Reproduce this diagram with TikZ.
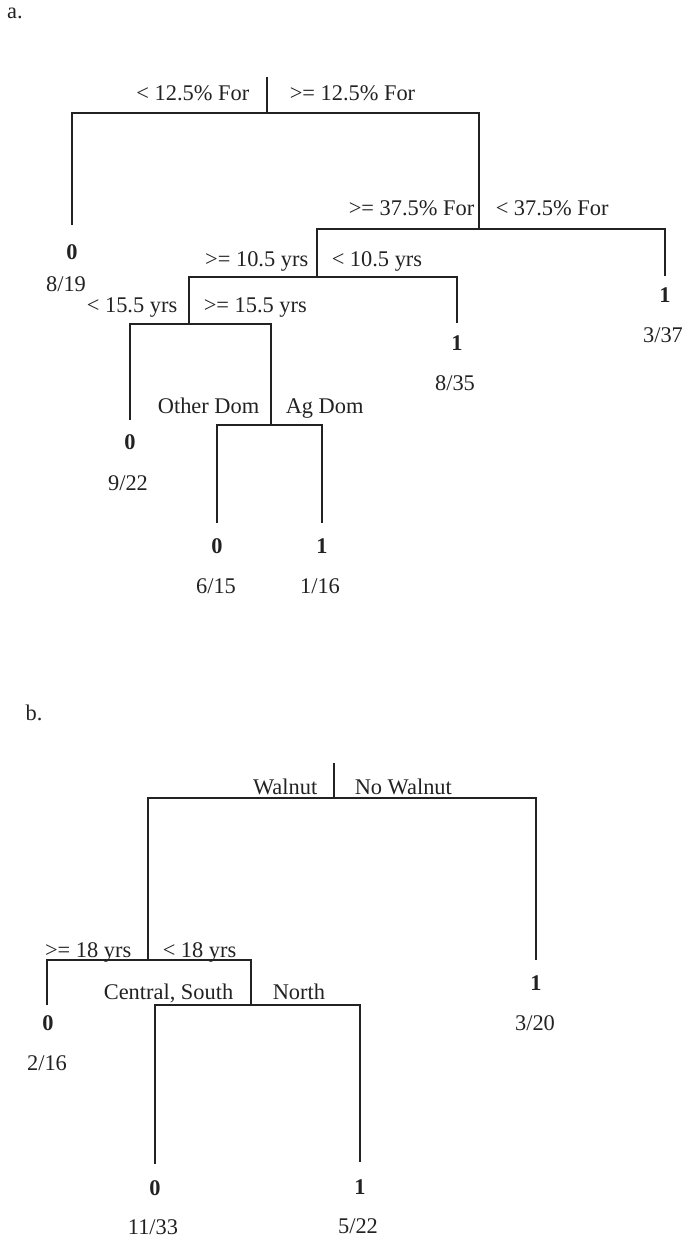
\documentclass[tikz,border=0pt]{standalone}
\usepackage{fontspec}
\setmainfont{Liberation Serif}
\definecolor{ink}{HTML}{222222}
\begin{document}
\begin{tikzpicture}[x=0.5pt,y=-0.5pt,line width=0.75pt,draw=ink,
  every node/.style={font=\fontsize{11.2}{13}\selectfont,inner sep=0pt,text=ink},
  ll/.style={anchor=base east},
  rl/.style={anchor=base west},
  leaf/.style={font=\fontsize{11.2}{13}\selectfont\bfseries},
  cnt/.style={}]
\useasboundingbox (0,0) rectangle (683,1240);
% ---------- tree a ----------
\node (ta) at (15,13) {a.};
\coordinate (aTop) at (267,77);
\coordinate (a1) at (267,113);
\coordinate (a2) at (479,229);
\coordinate (a3) at (317,277);
\coordinate (a4) at (189,324);
\coordinate (a5) at (271,425);
\coordinate (eA1) at (72,225);
\coordinate (eA2) at (665,276);
\coordinate (eA3) at (457,323);
\coordinate (eA4) at (130,420);
\coordinate (eA5) at (217,523);
\coordinate (eA6) at (322,523);
\draw (aTop) -- (a1);
\draw (eA1) |- (a1) -| (a2);
\draw (a3) |- (a2) -| (eA2);
\draw (a4) |- (a3) -| (eA3);
\draw (eA4) |- (a4) -| (a5);
\draw (eA5) |- (a5) -| (eA6);
\node[ll] (la1) at (250,101) {< 12.5\% For};
\node[rl] (ra1) at (289,101) {>= 12.5\% For};
\node[ll] (la2) at (475,216) {>= 37.5\% For};
\node[rl] (ra2) at (495,216) {< 37.5\% For};
\node[ll] (la3) at (309,267) {>= 10.5 yrs};
\node[rl] (ra3) at (331,267) {< 10.5 yrs};
\node[ll] (la4) at (178,313) {< 15.5 yrs};
\node[rl] (ra4) at (203,313) {>= 15.5 yrs};
\node[ll] (la5) at (260,414) {Other Dom};
\node[rl] (ra5) at (285,414) {Ag Dom};
\node[leaf] (A1) at (72,252) {0};
\node[cnt] (cA1) at (66,284) {8/19};
\node[leaf] (A2) at (665,295) {1};
\node[cnt] (cA2) at (663,335) {3/37};
\node[leaf] (A3) at (457,343) {1};
\node[cnt] (cA3) at (455,383) {8/35};
\node[leaf] (A4) at (130,442) {0};
\node[cnt] (cA4) at (128,483) {9/22};
\node[leaf] (A5) at (217,546) {0};
\node[cnt] (cA5) at (216,586) {6/15};
\node[leaf] (A6) at (322,546) {1};
\node[cnt] (cA6) at (320,586) {1/16};
% ---------- tree b ----------
\node (tb) at (34,713) {b.};
\coordinate (bTop) at (334,763);
\coordinate (b1) at (334,798);
\coordinate (b2) at (148,960);
\coordinate (b3) at (251,1005);
\coordinate (eB1) at (536,960);
\coordinate (eB2) at (47,1005);
\coordinate (eB3) at (155,1164);
\coordinate (eB4) at (360,1162);
\draw (bTop) -- (b1);
\draw (b2) |- (b1) -| (eB1);
\draw (eB2) |- (b2) -| (b3);
\draw (eB3) |- (b3) -| (eB4);
\node[ll] (lb1) at (318,794) {Walnut};
\node[rl] (rb1) at (354,794) {No Walnut};
\node[ll] (lb2) at (132,957) {>= 18 yrs};
\node[rl] (rb2) at (162,957) {< 18 yrs};
\node[ll] (lb3) at (234,999) {Central, South};
\node[rl] (rb3) at (272,999) {North};
\node[leaf] (B1) at (536,983) {1};
\node[cnt] (cB1) at (535,1023) {3/20};
\node[leaf] (B2) at (48,1023) {0};
\node[cnt] (cB2) at (47,1063) {2/16};
\node[leaf] (B3) at (155,1188) {0};
\node[cnt] (cB3) at (153,1227) {11/33};
\node[leaf] (B4) at (360,1187) {1};
\node[cnt] (cB4) at (358,1226) {5/22};
\end{tikzpicture}
\end{document}
